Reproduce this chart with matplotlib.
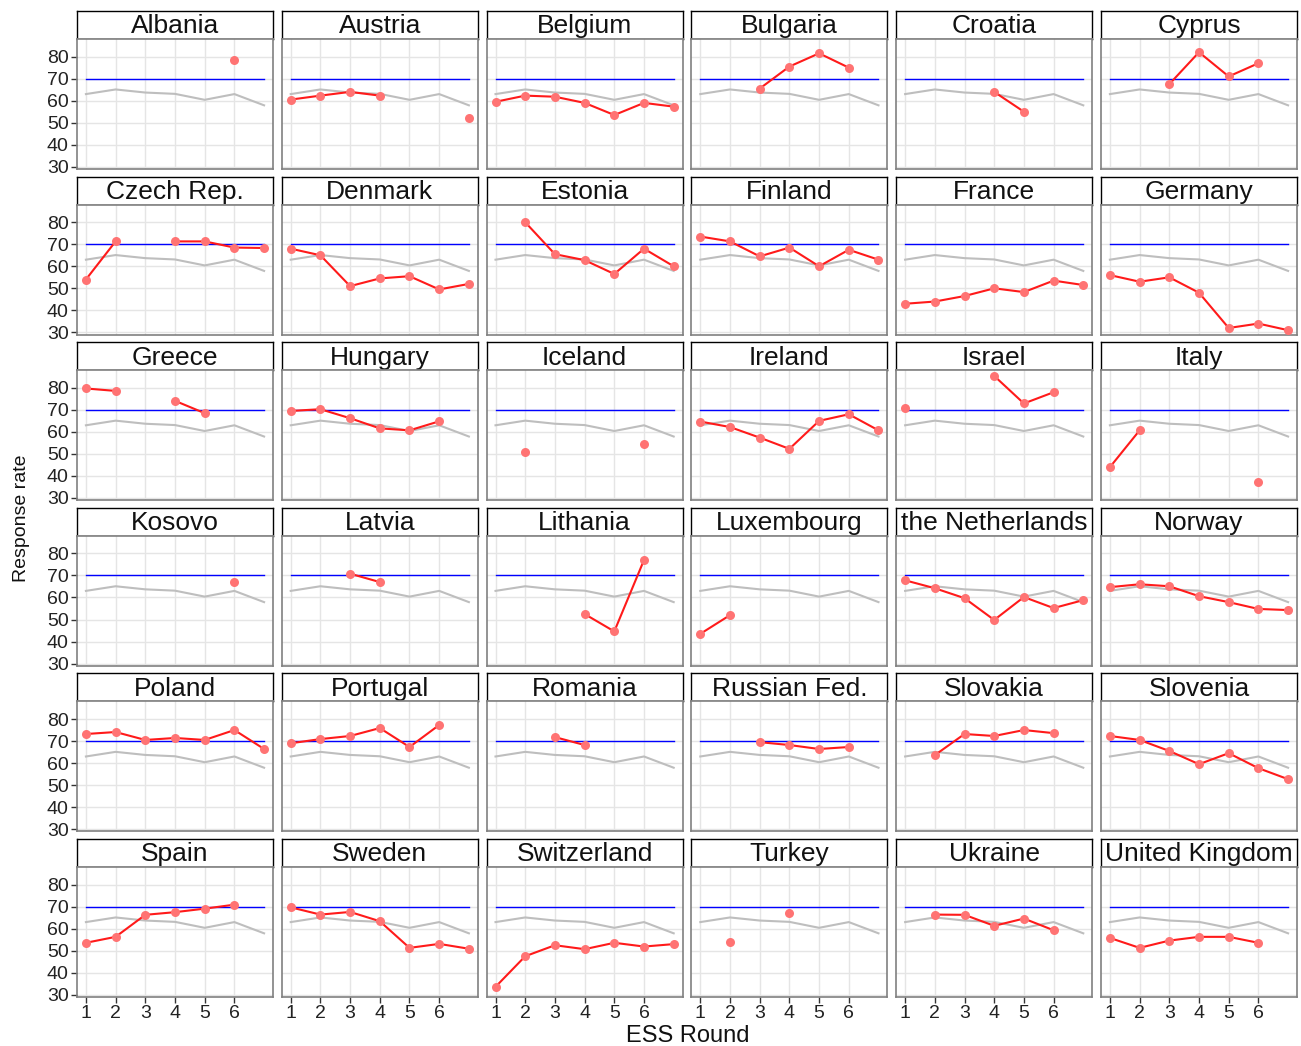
import numpy as np
import matplotlib
matplotlib.use("Agg")
import matplotlib.pyplot as plt

nan = np.nan

rounds = [1, 2, 3, 4, 5, 6, 7]
tick_labels = ["1", "2", "3", "4", "5", "6"]
target = 70
average = [63.0, 65.1, 63.7, 63.1, 60.4, 63.0, 57.9]

countries = [
    "Albania", "Austria", "Belgium", "Bulgaria", "Croatia", "Cyprus",
    "Czech Rep.", "Denmark", "Estonia", "Finland", "France", "Germany",
    "Greece", "Hungary", "Iceland", "Ireland", "Israel", "Italy",
    "Kosovo", "Latvia", "Lithania", "Luxembourg", "the Netherlands", "Norway",
    "Poland", "Portugal", "Romania", "Russian Fed.", "Slovakia", "Slovenia",
    "Spain", "Sweden", "Switzerland", "Turkey", "Ukraine", "United Kingdom",
]

rates = [
    [nan, nan, nan, nan, nan, 78.5, nan],      # Albania
    [60.5, 62.3, 64.0, 62.3, nan, nan, 52.3],  # Austria
    [59.5, 62.3, 61.8, 59.0, 53.5, 59.0, 57.3],  # Belgium
    [nan, nan, 65.5, 75.5, 81.5, 75.0, nan],   # Bulgaria
    [nan, nan, nan, 64.0, 55.0, nan, nan],     # Croatia
    [nan, nan, 67.5, 82.0, 71.0, 77.0, nan],   # Cyprus
    [54.0, 71.3, nan, 71.3, 71.3, 68.5, 68.3],  # Czech Rep.
    [68.0, 65.0, 51.0, 54.5, 55.5, 49.5, 52.0],  # Denmark
    [nan, 80.0, 65.5, 62.8, 56.5, 68.0, 60.0],  # Estonia
    [73.5, 71.3, 64.5, 68.5, 60.0, 67.5, 63.0],  # Finland
    [43.0, 44.0, 46.5, 50.0, 48.3, 53.5, 51.5],  # France
    [56.0, 53.0, 55.0, 48.0, 32.0, 34.0, 31.0],  # Germany
    [79.7, 78.6, nan, 74.1, 68.5, nan, nan],   # Greece
    [69.5, 70.3, 66.2, 61.6, 60.7, 64.8, nan],  # Hungary
    [nan, 51.0, nan, nan, nan, 54.5, nan],     # Iceland
    [64.7, 62.2, 57.4, 52.3, 65.0, 68.0, 60.7],  # Ireland
    [70.8, nan, nan, 85.4, 72.9, 78.0, nan],   # Israel
    [44.0, 60.7, nan, nan, nan, 37.1, nan],    # Italy
    [nan, nan, nan, nan, nan, 67.0, nan],      # Kosovo
    [nan, nan, 70.8, 67.0, nan, nan, nan],     # Latvia
    [nan, nan, nan, 52.5, 44.6, 77.0, nan],    # Lithania
    [43.5, 52.0, nan, nan, nan, nan, nan],     # Luxembourg
    [67.8, 64.2, 59.7, 49.8, 60.2, 55.2, 58.8],  # the Netherlands
    [64.7, 66.0, 65.1, 60.6, 57.9, 54.8, 54.3],  # Norway
    [73.2, 74.1, 70.5, 71.4, 70.5, 75.0, 66.4],  # Poland
    [69.0, 70.9, 72.3, 75.9, 67.3, 77.3, nan],  # Portugal
    [nan, nan, 71.8, 68.2, nan, nan, nan],     # Romania
    [nan, nan, 69.5, 68.2, 66.4, 67.3, nan],   # Russian Fed.
    [nan, 63.6, 73.2, 72.3, 75.0, 73.6, nan],  # Slovakia
    [72.3, 70.5, 65.5, 59.5, 64.5, 57.7, 52.7],  # Slovenia
    [53.6, 56.3, 66.3, 67.5, 69.1, 70.9, nan],  # Spain
    [69.7, 66.4, 67.6, 63.4, 51.3, 53.1, 50.9],  # Sweden
    [33.6, 47.5, 52.5, 50.7, 53.6, 51.9, 53.0],  # Switzerland
    [nan, 54.0, nan, 66.9, nan, nan, nan],     # Turkey
    [nan, 66.4, 66.3, 61.3, 64.6, 59.3, nan],  # Ukraine
    [55.8, 51.3, 54.6, 56.3, 56.3, 53.6, nan],  # United Kingdom
]

plt.rcParams['font.family'] = ['Liberation Sans', 'DejaVu Sans']

W, H = 1301, 1046
fig = plt.figure(figsize=(W / 100, H / 100), dpi=100)
fig.patch.set_facecolor("white")

ncol = 6
x0, dx, pw = 77, 204.8, 196
y0, dy, sh, ph = 11, 165.6, 28, 130

for i, (name, vals) in enumerate(zip(countries, rates)):
    r, c = divmod(i, ncol)
    left = x0 + c * dx
    top = y0 + r * dy

    # strip
    sax = fig.add_axes([left / W, 1 - (top + sh) / H, pw / W, sh / H])
    sax.set_xticks([])
    sax.set_yticks([])
    for s in sax.spines.values():
        s.set_color("black")
        s.set_linewidth(1.0)
    sax.text(0.5, 0.45, name, ha="center", va="center", fontsize=19,
             color="#111111", transform=sax.transAxes, clip_on=False)

    # panel
    ax = fig.add_axes([left / W, 1 - (top + sh + ph) / H, pw / W, ph / H])
    ax.set_xlim(0.7, 7.3)
    ax.set_ylim(29, 88)
    ax.set_xticks(range(1, 7))
    ax.set_yticks([30, 40, 50, 60, 70, 80])
    ax.grid(True, color="#E5E5E5", linewidth=1.0)
    ax.set_axisbelow(True)
    for s in ax.spines.values():
        s.set_color("#808080")
        s.set_linewidth(1.2)

    ax.plot(rounds, average, color="#BEBEBE", linewidth=1.5, zorder=2)
    ax.plot([rounds[0], rounds[-1]], [target, target], color="#0000FF",
            linewidth=1.0, zorder=3)
    ax.plot(rounds, vals, color="#FF1A1A", linewidth=1.5, zorder=4)
    ax.plot(rounds, vals, linestyle="none", marker="o", markersize=6.5,
            color="#FF7373", markeredgewidth=0, zorder=5)

    ax.tick_params(length=4, width=1, color="#333333", labelcolor="#222222",
                   labelsize=14, pad=2)
    if c == 0:
        ax.set_yticklabels([str(v) for v in [30, 40, 50, 60, 70, 80]])
    else:
        ax.tick_params(axis="y", length=0, labelleft=False)
    if r == 5:
        ax.set_xticklabels(tick_labels)
    else:
        ax.tick_params(axis="x", length=0, labelbottom=False)

fig.text(22 / W, 1 - 518 / H, "Response rate", rotation=90, ha="center",
         va="center", fontsize=14, color="#111111")
fig.text(688 / W, 1 - 1036 / H, "ESS Round", ha="center", va="center",
         fontsize=17, color="#111111")

fig.savefig("out.png", dpi=100, facecolor="white")
